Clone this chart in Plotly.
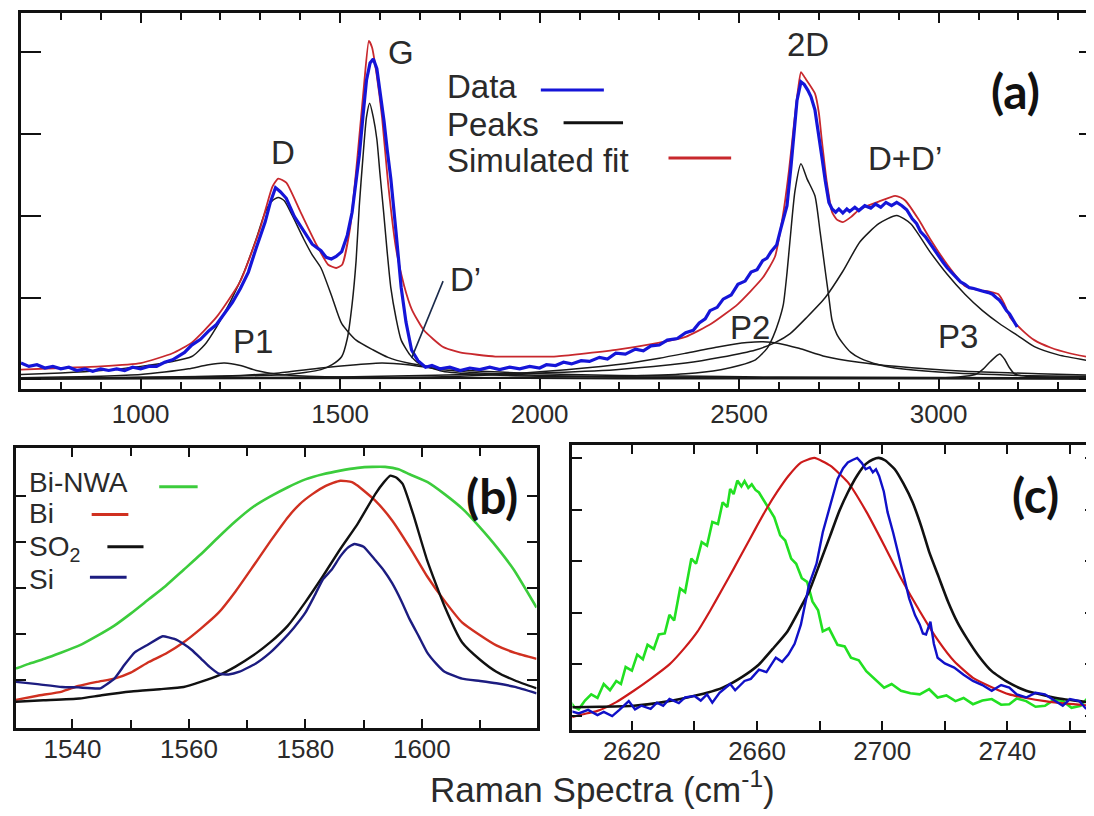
import plotly.graph_objects as go

# ---------------- Panel (a) data ----------------
A_DATA_X = [700, 720, 740, 760, 780, 800, 820, 840, 860, 880, 900, 920, 940, 960, 980, 1000, 1020, 1040, 1060, 1080,
            1110, 1128, 1150, 1170, 1190, 1210, 1230, 1250, 1270, 1290, 1312, 1325, 1338, 1350, 1365, 1385, 1408,
            1430, 1452, 1465, 1478, 1490, 1504, 1518, 1530, 1540, 1548, 1557, 1566, 1575, 1583, 1592, 1600, 1610,
            1618, 1627, 1640, 1653, 1665, 1679, 1695, 1714, 1730, 1750, 1775, 1801, 1825, 1850, 1875, 1900, 1925,
            1950, 1975, 2000, 2017, 2040, 2060, 2080, 2104, 2125, 2150, 2170, 2191, 2215, 2240, 2260, 2279, 2300,
            2320, 2345, 2366, 2385, 2400, 2415, 2427, 2445, 2460, 2480, 2497, 2515, 2530, 2545, 2559, 2570, 2580,
            2594, 2605, 2620, 2630, 2637, 2645, 2655, 2663, 2672, 2680, 2690, 2698, 2707, 2716, 2725, 2733, 2742,
            2750, 2760, 2770, 2777, 2790, 2800, 2815, 2830, 2842, 2855, 2868, 2882, 2895, 2908, 2920, 2934, 2945,
            2955, 2967, 2978, 2990, 3000, 3011, 3022, 3033, 3044, 3055, 3066, 3077, 3088, 3099, 3109, 3125, 3135,
            3144, 3152, 3160, 3170, 3178, 3185, 3191, 3197]
A_DATA_Y = [0.20, 0.16, 0.18, 0.14, 0.16, 0.13, 0.15, 0.11, 0.13, 0.10, 0.13, 0.11, 0.13, 0.11, 0.15, 0.13, 0.16, 0.16, 0.21, 0.24,
            0.33, 0.42, 0.49, 0.59, 0.67, 0.81, 0.94, 1.11, 1.31, 1.61, 1.92, 2.16, 2.34, 2.29, 2.21, 1.99, 1.81,
            1.65, 1.57, 1.49, 1.47, 1.50, 1.56, 1.76, 2.04, 2.40, 2.73, 3.20, 3.65, 3.86, 3.91, 3.79, 3.53, 3.15,
            2.80, 2.45, 1.80, 1.12, 0.70, 0.36, 0.23, 0.15, 0.17, 0.13, 0.15, 0.11, 0.14, 0.12, 0.15, 0.12, 0.15,
            0.13, 0.16, 0.14, 0.18, 0.17, 0.21, 0.19, 0.23, 0.22, 0.27, 0.25, 0.32, 0.31, 0.37, 0.35, 0.41, 0.42,
            0.48, 0.50, 0.57, 0.60, 0.69, 0.74, 0.84, 0.88, 0.98, 1.03, 1.16, 1.20, 1.31, 1.34, 1.45, 1.48, 1.56,
            1.64, 1.85, 2.12, 2.60, 3.00, 3.40, 3.63, 3.60, 3.53, 3.45, 3.29, 3.05, 2.73, 2.42, 2.16, 2.08, 2.04,
            2.08, 2.03, 2.08, 2.05, 2.10, 2.06, 2.12, 2.09, 2.14, 2.10, 2.16, 2.12, 2.16, 2.12, 2.07, 1.96, 1.90,
            1.80, 1.74, 1.66, 1.57, 1.50, 1.43, 1.36, 1.30, 1.25, 1.19, 1.16, 1.12, 1.11, 1.09, 1.08, 1.06, 1.04,
            1.00, 0.97, 0.92, 0.84, 0.80, 0.74, 0.69, 0.64]

A_FIT_X = [700, 800, 900, 1000, 1080, 1128, 1190, 1250, 1300, 1330, 1345, 1365, 1400, 1440, 1470, 1490, 1505, 1525,
           1545, 1560, 1572, 1580, 1592, 1605, 1620, 1640, 1660, 1680, 1710, 1757, 1800, 1889, 1950, 2036, 2100,
           2191, 2280, 2366, 2430, 2497, 2559, 2590, 2611, 2625, 2637, 2648, 2655, 2665, 2690, 2700, 2707, 2720,
           2733, 2745, 2760, 2780, 2803, 2850, 2891, 2905, 2917, 2950, 2978, 3022, 3066, 3100, 3130, 3150, 3165,
           3179, 3210, 3240, 3280, 3328, 3400]
A_FIT_Y = [0.12, 0.14, 0.16, 0.20, 0.32, 0.45, 0.76, 1.20, 1.85, 2.35, 2.45, 2.40, 2.05, 1.65, 1.40, 1.36, 1.40, 1.85,
           2.80, 3.60, 4.13, 4.05, 3.70, 3.20, 2.40, 1.60, 1.15, 0.85, 0.60, 0.40, 0.33, 0.28, 0.28, 0.28, 0.31,
           0.36, 0.43, 0.52, 0.68, 0.92, 1.24, 1.50, 2.04, 2.55, 3.09, 3.55, 3.75, 3.68, 3.49, 3.25, 2.93, 2.40,
           2.04, 1.95, 1.92, 1.98, 2.08, 2.17, 2.24, 2.22, 2.18, 1.95, 1.72, 1.40, 1.14, 1.09, 1.07, 1.04, 0.92,
           0.76, 0.60, 0.48, 0.39, 0.32, 0.25]

PEAK_D_X = [700, 800, 900, 1000, 1080, 1128, 1160, 1190, 1225, 1260, 1290, 1312, 1330, 1345, 1360, 1380, 1408, 1430,
            1452, 1480, 1504, 1540, 1583, 1620, 1670, 1720, 1800, 1900, 2000, 2200, 2600, 3400]
PEAK_D_Y = [0.06, 0.08, 0.11, 0.16, 0.22, 0.28, 0.42, 0.64, 0.95, 1.32, 1.72, 2.04, 2.18, 2.22, 2.18, 2.00, 1.72, 1.52,
            1.36, 1.00, 0.68, 0.48, 0.36, 0.27, 0.20, 0.16, 0.12, 0.09, 0.07, 0.05, 0.03, 0.02]

PEAK_G_X = [700, 1200, 1365, 1452, 1480, 1504, 1518, 1530, 1540, 1548, 1557, 1566, 1574, 1583, 1592, 1600, 1609, 1618,
            1627, 1640, 1653, 1675, 1696, 1757, 1850, 2000, 2500, 3400]
PEAK_G_Y = [0.01, 0.04, 0.06, 0.12, 0.18, 0.28, 0.50, 0.92, 1.45, 2.12, 2.70, 3.20, 3.37, 3.20, 2.93, 2.50, 2.04, 1.55,
            1.12, 0.75, 0.48, 0.30, 0.20, 0.10, 0.06, 0.04, 0.02, 0.01]

PEAK_P1_X = [700, 800, 900, 1000, 1060, 1120, 1170, 1210, 1250, 1290, 1347, 1420, 1500, 1700, 2200, 3400]
PEAK_P1_Y = [0.02, 0.03, 0.04, 0.06, 0.09, 0.13, 0.18, 0.20, 0.17, 0.11, 0.06, 0.04, 0.03, 0.02, 0.01, 0.01]

PEAK_DP_X = [700, 1100, 1250, 1347, 1452, 1540, 1605, 1670, 1757, 1889, 2000, 2200, 2600, 3400]
PEAK_DP_Y = [0.01, 0.03, 0.05, 0.08, 0.14, 0.18, 0.20, 0.18, 0.12, 0.07, 0.05, 0.03, 0.02, 0.01]

PEAK_2D_X = [700, 1800, 2200, 2366, 2454, 2500, 2541, 2570, 2585, 2600, 2611, 2620, 2628, 2640, 2655, 2670, 2690,
             2703, 2716, 2725, 2733, 2745, 2760, 2780, 2803, 2850, 2891, 3000, 3200, 3400]
PEAK_2D_Y = [0.01, 0.02, 0.04, 0.07, 0.12, 0.17, 0.24, 0.38, 0.52, 0.72, 0.92, 1.30, 1.72, 2.30, 2.63, 2.45, 2.24,
             1.80, 1.32, 1.00, 0.72, 0.55, 0.44, 0.33, 0.26, 0.18, 0.14, 0.09, 0.05, 0.04]

PEAK_DD_X = [700, 1500, 2000, 2191, 2366, 2454, 2541, 2590, 2628, 2670, 2716, 2760, 2803, 2850, 2895, 2930, 2978,
             3022, 3066, 3110, 3153, 3200, 3240, 3300, 3400]
PEAK_DD_Y = [0.01, 0.03, 0.08, 0.12, 0.20, 0.27, 0.36, 0.45, 0.56, 0.76, 1.00, 1.32, 1.68, 1.90, 2.00, 1.90, 1.56,
             1.28, 1.04, 0.84, 0.68, 0.53, 0.40, 0.30, 0.21]

PEAK_P2_X = [700, 1500, 1800, 2017, 2191, 2300, 2366, 2450, 2520, 2560, 2600, 2650, 2716, 2800, 2891, 3066, 3250, 3400]
PEAK_P2_Y = [0.01, 0.02, 0.04, 0.10, 0.18, 0.26, 0.32, 0.40, 0.45, 0.46, 0.44, 0.38, 0.28, 0.21, 0.16, 0.10, 0.07, 0.05]

PEAK_P3_X = [700, 3000, 3050, 3092, 3110, 3130, 3153, 3165, 3178, 3190, 3220, 3300, 3400]
PEAK_P3_Y = [0.01, 0.02, 0.03, 0.06, 0.12, 0.22, 0.31, 0.25, 0.14, 0.07, 0.04, 0.03, 0.02]

A_XTICKS = [1000, 1500, 2000, 2500, 3000]

# ---------------- Panel (b) data ----------------
B_GREEN_X = [1530.3, 1532.5, 1535.2, 1538.0, 1541.2, 1544.0, 1547.2, 1550.0, 1553.1, 1556.0, 1559.1, 1562.0, 1565.1,
             1568.0, 1571.0, 1574.0, 1577.0, 1580.0, 1583.0, 1586.0, 1589.0, 1591.5, 1593.7, 1596.0, 1597.9, 1601.0,
             1603.9, 1607.0, 1609.9, 1613.0, 1615.8, 1619.7]
B_GREEN_Y = [0.26, 0.36, 0.47, 0.60, 0.76, 0.95, 1.19, 1.45, 1.76, 2.05, 2.40, 2.73, 3.11, 3.45, 3.76, 3.99, 4.19, 4.36,
             4.47, 4.55, 4.61, 4.63, 4.63, 4.58, 4.47, 4.30, 4.04, 3.72, 3.33, 2.87, 2.40, 1.58]

B_RED_X = [1530.3, 1534.0, 1538.2, 1541.0, 1544.2, 1547.2, 1550.0, 1553.1, 1556.0, 1559.1, 1562.0, 1565.1, 1568.0,
           1571.0, 1574.0, 1577.0, 1579.0, 1581.2, 1583.5, 1586.0, 1588.0, 1589.0, 1592.0, 1594.9, 1598.0, 1600.9,
           1604.0, 1606.9, 1610.0, 1612.8, 1616.0, 1619.7]
B_RED_Y = [-0.42, -0.33, -0.24, -0.12, -0.03, 0.04, 0.17, 0.40, 0.58, 0.83, 1.12, 1.47, 1.93, 2.47, 3.02, 3.54, 3.82,
           4.04, 4.22, 4.33, 4.30, 4.22, 3.90, 3.47, 2.87, 2.26, 1.71, 1.26, 0.98, 0.76, 0.60, 0.47]

B_BLACK_X = [1530.3, 1535.0, 1541.2, 1545.0, 1550.1, 1555.0, 1559.1, 1562.0, 1565.1, 1568.0, 1571.0, 1574.0, 1577.0,
             1580.0, 1583.0, 1586.0, 1589.0, 1592.0, 1593.5, 1594.6, 1595.6, 1596.7, 1598.5, 1600.9, 1603.9, 1606.9,
             1610.0, 1612.8, 1616.0, 1619.7]
B_BLACK_Y = [-0.46, -0.43, -0.39, -0.32, -0.24, -0.19, -0.14, -0.03, 0.11, 0.30, 0.54, 0.83, 1.19, 1.70, 2.26, 2.85,
             3.40, 4.04, 4.30, 4.44, 4.40, 4.26, 3.61, 2.61, 1.61, 0.83, 0.45, 0.19, 0.00, -0.17]

B_BLUE_X = [1530.3, 1534.0, 1538.2, 1541.0, 1544.8, 1547.2, 1549.0, 1550.7, 1553.0, 1555.5, 1557.5, 1559.1, 1560.5,
            1562.1, 1563.5, 1565.1, 1566.8, 1568.7, 1571.5, 1574.0, 1576.0, 1578.0, 1580.0, 1581.5, 1583.0, 1584.5,
            1586.0, 1587.3, 1588.4, 1590.0, 1592.0, 1593.5, 1594.9, 1596.5, 1597.9, 1599.5, 1600.9, 1602.5, 1603.9,
            1606.9, 1610.0, 1612.8, 1616.0, 1619.7]
B_BLUE_Y = [-0.03, -0.08, -0.14, -0.15, -0.17, 0.04, 0.35, 0.61, 0.78, 0.96, 0.90, 0.79, 0.66, 0.47, 0.30, 0.15, 0.13,
            0.19, 0.37, 0.61, 0.86, 1.14, 1.47, 1.82, 2.19, 2.40, 2.69, 2.88, 2.96, 2.90, 2.61, 2.38, 2.11, 1.72,
            1.33, 0.95, 0.61, 0.36, 0.19, 0.04, -0.01, -0.06, -0.14, -0.28]

B_XTICKS = [1540, 1560, 1580, 1600]

# ---------------- Panel (c) data ----------------
C_RED_X = [2600.2, 2604, 2609, 2615, 2620.6, 2626, 2632, 2637, 2641, 2645, 2649, 2652.5, 2656, 2659.5, 2663, 2666.5,
           2670, 2674, 2678.3, 2683.4, 2689, 2695, 2700.6, 2706, 2712, 2718, 2723, 2729, 2735, 2740.6, 2746, 2752,
           2759, 2767]
C_RED_Y = [-0.03, 0.03, 0.10, 0.27, 0.49, 0.72, 1.00, 1.33, 1.64, 2.04, 2.47, 2.85, 3.24, 3.63, 4.01, 4.35, 4.65,
           4.91, 5.00, 4.85, 4.53, 3.95, 3.31, 2.67, 2.03, 1.45, 1.06, 0.74, 0.56, 0.42, 0.35, 0.29, 0.24, 0.20]

C_BLACK_X = [2600.2, 2610, 2620.6, 2630, 2637.7, 2644, 2649, 2655, 2660.6, 2665, 2669.7, 2673, 2676.6, 2680, 2683.4,
             2686, 2689, 2692, 2694.7, 2697, 2698.9, 2701, 2704, 2706.8, 2709.7, 2712.5, 2715, 2718, 2721, 2724,
             2727, 2731, 2735, 2740, 2746, 2752, 2757.7, 2767]
C_BLACK_Y = [0.17, 0.18, 0.20, 0.27, 0.36, 0.45, 0.55, 0.75, 1.00, 1.30, 1.64, 2.00, 2.41, 2.95, 3.50, 3.93, 4.33,
             4.66, 4.88, 4.97, 5.00, 4.95, 4.78, 4.50, 4.14, 3.67, 3.18, 2.70, 2.22, 1.82, 1.51, 1.15, 0.87, 0.66,
             0.49, 0.40, 0.33, 0.26]

C_BLUE_X = [2600.2, 2603, 2606, 2609, 2611, 2613.7, 2616, 2619, 2621, 2623, 2626, 2628, 2630, 2632, 2635, 2637, 2640,
            2642, 2644, 2645.7, 2648, 2651.4, 2653, 2656, 2658, 2660.6, 2663, 2666, 2668, 2670, 2672, 2674, 2676.6,
            2679, 2681, 2683.5, 2685.7, 2687.5, 2689, 2690.5, 2692, 2693.5, 2694.7, 2696, 2697, 2698, 2699, 2700.5,
            2701.7, 2703.5, 2705, 2707, 2708.6, 2710.5, 2712, 2713, 2714, 2715.4, 2716.5, 2717.7, 2720, 2723, 2726,
            2729, 2732, 2735, 2738, 2740.6, 2743, 2746, 2749, 2752, 2755, 2757.7, 2760, 2763, 2765, 2767]
C_BLUE_Y = [0.10, 0.05, 0.12, 0.02, 0.08, 0.00, 0.12, 0.29, 0.13, 0.20, 0.14, 0.26, 0.20, 0.33, 0.25, 0.36, 0.39,
            0.30, 0.42, 0.26, 0.45, 0.62, 0.50, 0.68, 0.72, 0.90, 0.85, 1.13, 1.05, 1.19, 1.40, 1.77, 2.54, 2.95,
            3.56, 4.10, 4.59, 4.80, 4.91, 4.96, 5.00, 4.90, 4.78, 4.82, 4.72, 4.78, 4.65, 4.35, 3.95, 3.55, 3.18,
            2.70, 2.28, 1.95, 1.77, 1.60, 1.58, 1.83, 1.40, 1.13, 1.02, 0.94, 0.80, 0.68, 0.60, 0.49, 0.60, 0.55,
            0.42, 0.36, 0.45, 0.42, 0.30, 0.20, 0.33, 0.29, 0.15, 0.17]

C_GREEN_X = [2600.2, 2601.5, 2603, 2605, 2607, 2609, 2611, 2613, 2615, 2616.5, 2618, 2620, 2621.7, 2623.5, 2625,
             2627, 2628.6, 2630.5, 2632, 2633.5, 2635.4, 2637, 2639, 2640.5, 2642.3, 2644, 2645.7, 2647.5, 2649,
             2650.5, 2651.4, 2652.5, 2653.7, 2655, 2656, 2657.2, 2658.3, 2659.5, 2660.6, 2662, 2664, 2665.5, 2667.4,
             2669, 2670.9, 2672.5, 2674.3, 2676, 2677.7, 2679.5, 2681, 2683, 2685.7, 2688, 2690, 2692.5, 2694.9,
             2697.5, 2700.6, 2703, 2706, 2709, 2712, 2715, 2717.7, 2720.5, 2723.4, 2726, 2729, 2732, 2735, 2738,
             2740.6, 2743, 2746, 2749, 2752, 2755, 2757.7, 2760.5, 2763.4, 2765.5, 2767]
C_GREEN_Y = [0.29, 0.18, 0.13, 0.30, 0.42, 0.35, 0.62, 0.50, 0.68, 0.62, 0.95, 0.88, 1.19, 1.10, 1.38, 1.30, 1.58,
             1.60, 1.96, 1.85, 2.47, 2.40, 3.05, 2.95, 3.37, 3.30, 3.76, 3.72, 4.14, 4.05, 4.40, 4.30, 4.56, 4.45,
             4.55, 4.42, 4.49, 4.38, 4.33, 4.20, 4.01, 3.85, 3.50, 3.40, 3.05, 2.95, 2.67, 2.60, 2.22, 2.05, 1.64,
             1.70, 1.38, 1.35, 1.13, 1.08, 0.87, 0.72, 0.55, 0.62, 0.49, 0.44, 0.42, 0.52, 0.36, 0.40, 0.29, 0.35,
             0.23, 0.30, 0.33, 0.22, 0.23, 0.34, 0.29, 0.18, 0.20, 0.32, 0.29, 0.16, 0.20, 0.34, 0.29]

C_XTICKS = [2620, 2660, 2700, 2740]

# ---------------- figure ----------------
W, H = 1094, 816
FONT = "Liberation Sans, Arial, sans-serif"
BOLD = "Lato, Liberation Sans, sans-serif"
INK = "#111111"
TXT = "#2a2a2a"


def px_x(p):
    return p / W


def px_y(p):
    return 1 - p / H


fig = go.Figure()


def add(x, y, color, width, xa="x", ya="y", shape="linear", smooth=None):
    line = dict(color=color, width=width, shape=shape)
    if smooth is not None:
        line["smoothing"] = smooth
    fig.add_trace(go.Scatter(x=x, y=y, mode="lines", line=line, xaxis=xa, yaxis=ya,
                             showlegend=False, hoverinfo="skip"))


# panel (a)
for px_, py_ in [(PEAK_P1_X, PEAK_P1_Y), (PEAK_DP_X, PEAK_DP_Y), (PEAK_P2_X, PEAK_P2_Y), (PEAK_P3_X, PEAK_P3_Y),
                 (PEAK_D_X, PEAK_D_Y), (PEAK_G_X, PEAK_G_Y), (PEAK_2D_X, PEAK_2D_Y), (PEAK_DD_X, PEAK_DD_Y)]:
    add(px_, py_, "#1a1a1a", 1.5, shape="spline", smooth=0.6)
add(A_FIT_X, A_FIT_Y, "#c8282d", 1.8, shape="spline", smooth=0.5)
add(A_DATA_X, A_DATA_Y, "#1515d8", 3.2)

# panel (b)
add(B_GREEN_X, B_GREEN_Y, "#3ccc3c", 2.6, "x2", "y2", shape="spline", smooth=0.5)
add(B_RED_X, B_RED_Y, "#d03020", 2.4, "x2", "y2", shape="spline", smooth=0.5)
add(B_BLACK_X, B_BLACK_Y, "#111111", 2.4, "x2", "y2", shape="spline", smooth=0.5)
add(B_BLUE_X, B_BLUE_Y, "#1c1c80", 2.4, "x2", "y2", shape="spline", smooth=0.4)

# panel (c)
add(C_GREEN_X, C_GREEN_Y, "#22e022", 2.6, "x3", "y3")
add(C_RED_X, C_RED_Y, "#cc1a1a", 2.2, "x3", "y3", shape="spline", smooth=0.5)
add(C_BLACK_X, C_BLACK_Y, "#111111", 2.6, "x3", "y3", shape="spline", smooth=0.5)
add(C_BLUE_X, C_BLUE_Y, "#1010c8", 2.4, "x3", "y3")

tickfont = dict(family=FONT, size=26, color=TXT)


def xstyle(domain, rng, tickvals, minor_dtick=None, ticklen=10, minorlen=7, anchor="y", standoff=0):
    d = dict(domain=domain, range=rng, anchor=anchor, showline=True, linecolor=INK, linewidth=2.6,
             mirror="ticks", ticks="inside", ticklen=ticklen, tickwidth=2, tickcolor=INK,
             showgrid=False, zeroline=False, tickvals=tickvals, tickfont=tickfont, fixedrange=True,
             ticklabelstandoff=standoff)
    if minor_dtick:
        d["minor"] = dict(dtick=minor_dtick, ticklen=minorlen, tickwidth=1.6, ticks="inside",
                          tickcolor=INK, showgrid=False)
    return d


def ystyle(domain, rng, tickvals, ticklen, anchor="x"):
    return dict(domain=domain, range=rng, anchor=anchor, showline=True, linecolor=INK, linewidth=2.6,
                mirror="ticks", ticks="inside", ticklen=ticklen, tickwidth=2, tickcolor=INK,
                showgrid=False, zeroline=False, tickvals=tickvals, showticklabels=False, fixedrange=True)


fig.update_layout(
    width=W, height=H, margin=dict(l=0, r=0, t=0, b=0),
    paper_bgcolor="white", plot_bgcolor="white",
    xaxis=xstyle([px_x(13), 1.0], [700, 3402], A_XTICKS, minor_dtick=100, ticklen=10, anchor="y"),
    yaxis=ystyle([px_y(381), px_y(5)], [-0.116, 4.47], [0, 1, 2, 3, 4], 20, anchor="x"),
    xaxis2=xstyle([px_x(8), px_x(530)], [1530.3, 1619.7], B_XTICKS, minor_dtick=10, ticklen=9, minorlen=8,
                  anchor="y2", standoff=-4),
    yaxis2=ystyle([px_y(720), px_y(440)], [-1.03, 5.04], [0, 1, 2, 3, 4], 10, anchor="x2"),
    xaxis3=xstyle([px_x(566), px_x(1090)], [2601, 2768], C_XTICKS, minor_dtick=20, ticklen=9, minorlen=9,
                  anchor="y3", standoff=-4),
    yaxis3=ystyle([px_y(722), px_y(437)], [-0.27, 5.25], [0, 1, 2, 3, 4, 5], 10, anchor="x3"),
)

ann = []
lab = dict(family=FONT, size=33, color=TXT)
# peak labels in (a)
for text, x, y in [("D", 1356, 2.77), ("G", 1652, 3.99), ("P1", 1281, 0.46), ("D\u2019", 1815, 1.22),
                   ("2D", 2672, 4.09), ("D+D\u2019", 2917, 2.70), ("P2", 2528, 0.64), ("P3", 3048, 0.52)]:
    ann.append(dict(x=x, y=y, xref="x", yref="y", text=text, showarrow=False, font=lab))
# legend (a)
for text, y in [("Data", 3.57), ("Peaks", 3.11), ("Simulated fit", 2.67)]:
    ann.append(dict(x=1762, y=y, xref="x", yref="y", text=text, showarrow=False, font=lab,
                    xanchor="left"))
# legend (b)
for text, y in [("Bi-NWA", 4.30), ("Bi", 3.62), ("SO<sub>2</sub>", 2.86), ("Si", 2.19)]:
    ann.append(dict(x=1532.2, y=y, xref="x2", yref="y2", text=text, showarrow=False,
                    font=dict(family=FONT, size=28, color=TXT), xanchor="left"))
# panel labels
pl = dict(family=BOLD, size=48, color="#111111")
ann.append(dict(x=3192, y=3.52, xref="x", yref="y", text="<b>(a)</b>", showarrow=False, font=pl))
ann.append(dict(x=1612.0, y=4.0, xref="x2", yref="y2", text="<b>(b)</b>", showarrow=False, font=pl))
ann.append(dict(x=2749, y=4.30, xref="x3", yref="y3", text="<b>(c)</b>", showarrow=False, font=pl))
# x title
ann.append(dict(x=px_x(596), y=px_y(803), xref="paper", yref="paper",
                text="Raman Spectra (cm<sup>-1</sup>)", showarrow=False,
                font=dict(family=FONT, size=35, color=TXT)))
fig.update_layout(annotations=ann)

shapes = []
# legend line samples (a)
for x0, x1, y, c in [(2003, 2161, 3.53, "#1515d8"), (2060, 2209, 3.13, "#111111"), (2323, 2480, 2.70, "#c8282d")]:
    shapes.append(dict(type="line", xref="x", yref="y", x0=x0, x1=x1, y0=y, y1=y,
                       line=dict(color=c, width=3)))
# D' pointer
shapes.append(dict(type="line", xref="x", yref="y", x0=1758, y0=1.20, x1=1679, y1=0.26,
                   line=dict(color="#1a2a4a", width=1.6)))
# legend line samples (b)
for x0, x1, y, c in [(1554.9, 1561.5, 4.20, "#3ccc3c"), (1543.3, 1549.6, 3.60, "#d03020"),
                     (1546.0, 1552.2, 2.90, "#111111"), (1543.0, 1549.3, 2.24, "#1c1c80")]:
    shapes.append(dict(type="line", xref="x2", yref="y2", x0=x0, x1=x1, y0=y, y1=y,
                       line=dict(color=c, width=3)))
fig.update_layout(shapes=shapes)

fig.write_html("out.html")
